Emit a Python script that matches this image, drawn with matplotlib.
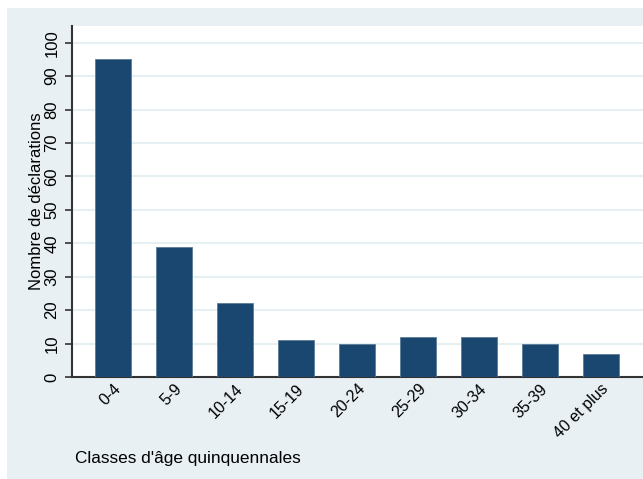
import matplotlib.pyplot as plt
from matplotlib.patches import Rectangle
import numpy as np

# Déclarations par classe d'âge quinquennale
classes = ["0-4", "5-9", "10-14", "15-19", "20-24", "25-29", "30-34", "35-39", "40 et plus"]
declarations = [95, 39, 22, 11, 10, 12, 12, 10, 7]
yticks = list(range(0, 101, 10))

plt.rcParams['font.family'] = ['Liberation Sans', 'DejaVu Sans']

W, H = 643, 479
fig = plt.figure(figsize=(W / 100, H / 100), dpi=100)
fig.patch.set_facecolor("white")

# fond gris-bleu de la zone graphique
fig.patches.append(Rectangle((7 / W, 0), 1 - 7 / W, 1 - 8 / H, transform=fig.transFigure,
                             facecolor="#E8F0F3", edgecolor="none", zorder=-5))

ax = fig.add_axes([72 / W, (H - 377) / H, 1 - 72 / W, (377 - 26) / H])
ax.set_zorder(2)
ax.set_facecolor("white")

x = np.arange(len(classes))
ax.bar(x, declarations, width=0.59, color="#1A476F", edgecolor="#5A7C98", linewidth=0.6, zorder=3)

ax.set_xlim(-0.68, 8.69)
ax.set_ylim(0, 105)
ax.set_yticks(yticks)
ax.set_yticklabels([str(t) for t in yticks], rotation=90, va="center", fontsize=12)
ax.grid(axis="y", color="#E6EFF2", linewidth=1.5, zorder=0)

ax.set_xticks(x)
ax.set_xticklabels(classes, rotation=45, ha="right", rotation_mode="anchor", fontsize=11.5)
ax.tick_params(axis="x", length=0, pad=3)
ax.tick_params(axis="y", length=5, width=1.2, color="#333333", pad=4)

for s in ["top", "right"]:
    ax.spines[s].set_visible(False)
for s in ["left", "bottom"]:
    ax.spines[s].set_color("#333333")
    ax.spines[s].set_linewidth(1.5)

ax.set_ylabel("Nombre de déclarations", fontsize=12, labelpad=0)
fig.text(75 / W, 1 - 458 / H, "Classes d'âge quinquennales", fontsize=12.4, ha="left", va="center")

fig.savefig("out.png", dpi=100, facecolor=fig.get_facecolor())
